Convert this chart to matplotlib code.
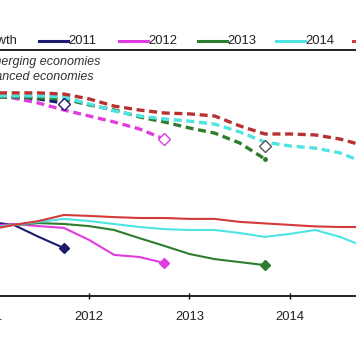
import numpy as np
import matplotlib
matplotlib.use("Agg")
import matplotlib.pyplot as plt
from matplotlib.lines import Line2D

plt.rcParams["font.family"] = ["Liberation Sans", "DejaVu Sans"]

# quarterly timeline
quarters = [2011.0, 2011.25, 2011.5, 2011.75, 2012.0, 2012.25, 2012.5, 2012.75,
            2013.0, 2013.25, 2013.5, 2013.75, 2014.0, 2014.25, 2014.5, 2014.75]

# growth forecasts, emerging economies (dashed)
em_2011 = [6.67, 6.63, 6.57, 6.43]
em_2012 = [6.67, 6.60, 6.43, 6.20, 6.00, 5.80, 5.57, 5.23]
em_2013 = [6.63, 6.63, 6.60, 6.57, 6.37, 6.20, 5.97, 5.80, 5.60, 5.43, 5.10, 4.57]
em_2014 = [6.67, 6.67, 6.67, 6.63, 6.40, 6.17, 6.00, 5.90, 5.83, 5.73, 5.47, 5.13,
           5.00, 4.93, 4.77, 4.43]
em_2015 = [6.77, 6.77, 6.77, 6.73, 6.57, 6.33, 6.20, 6.10, 6.07, 6.00, 5.67, 5.40,
           5.40, 5.37, 5.23, 5.00]

# growth forecasts, advanced economies (solid)
adv_2011 = [2.47, 2.37, 1.97, 1.60]
adv_2012 = [2.33, 2.40, 2.33, 2.27, 1.87, 1.37, 1.30, 1.10]
adv_2013 = [2.27, 2.37, 2.43, 2.40, 2.33, 2.20, 1.93, 1.67, 1.40, 1.23, 1.13, 1.03]
adv_2014 = [2.27, 2.37, 2.47, 2.57, 2.50, 2.40, 2.30, 2.23, 2.20, 2.20, 2.10, 1.97,
            2.07, 2.20, 1.97, 1.63]
adv_2015 = [2.20, 2.37, 2.50, 2.70, 2.67, 2.63, 2.60, 2.60, 2.57, 2.57, 2.47, 2.42,
            2.37, 2.32, 2.30, 2.30]

# actual growth, emerging economies (open diamonds)
actual_x = [2011.75, 2012.75, 2013.75]
actual_em = [6.40, 5.23, 5.00]

years = ["2011", "2012", "2013", "2014", "2015"]
colors = {"2011": "#1c1c6e", "2012": "#e03ce0", "2013": "#2e7d2e",
          "2014": "#4fe3e3", "2015": "#d33a3a"}

W, H = 356, 364
fig = plt.figure(figsize=(W / 100, H / 100), dpi=100)
ax = fig.add_axes([-60 / W, 68 / H, 480 / W, 246 / H])

em = [em_2011, em_2012, em_2013, em_2014, em_2015]
adv = [adv_2011, adv_2012, adv_2013, adv_2014, adv_2015]

for yr, e, a in zip(years, em, adv):
    c = colors[yr]
    dc = "#b83030" if yr == "2015" else c
    ax.plot(quarters[:len(e)], e, color=dc, lw=2.4, ls=(0, (2.4, 1.4)))
    ax.plot(quarters[:len(a)], a, color=c, lw=1.5)
    if yr in ("2011", "2012", "2013"):
        ax.plot(quarters[len(a) - 1], a[-1], marker="D", ms=5, color=c)

ax.plot(quarters[len(em_2013) - 1], em_2013[-1], "o", ms=2.5, color=colors["2013"])

act_cols = [colors["2011"], colors["2012"], "#555555"]
for x, y, c in zip(actual_x, actual_em, act_cols):
    ax.plot(x, y, marker="D", ms=6, mfc="white", mec=c, mew=1.0)

ax.set_xlim(2010.517, 2015.294)
ax.set_ylim(0, 8.2)
ax.set_xticks([2011, 2012, 2013, 2014, 2015])
ax.set_xticklabels(years, fontsize=9.4, color="#222222")
ax.set_yticks([])
ax.tick_params(axis="x", direction="inout", length=5, width=1, pad=8)
for s in ["top", "bottom"]:
    ax.spines[s].set_linewidth(1.4)
    ax.spines[s].set_color("#222222")


def fx(px):
    return px / W


def fy(px):
    return 1 - px / H


# legend row above the plot
leg_y = 41
fig.text(fx(17), fy(leg_y), "Actual growth", ha="right", va="center",
         fontsize=9.4, color="#222222")
leg_x = [39, 119, 198, 276, 353]
for x0, yr in zip(leg_x, years):
    fig.add_artist(Line2D([fx(x0), fx(x0 + 29)], [fy(leg_y), fy(leg_y)],
                          color=colors[yr], lw=2.2))
    fig.text(fx(x0 + 29), fy(leg_y), yr, ha="left", va="center",
             fontsize=9.4, color="#222222")

fig.text(fx(100), fy(62), "emerging economies", ha="right", va="center",
         fontsize=9, style="italic", color="#333333")
fig.text(fx(94), fy(77), "advanced economies", ha="right", va="center",
         fontsize=9, style="italic", color="#333333")

fig.savefig("out.png", dpi=100)
